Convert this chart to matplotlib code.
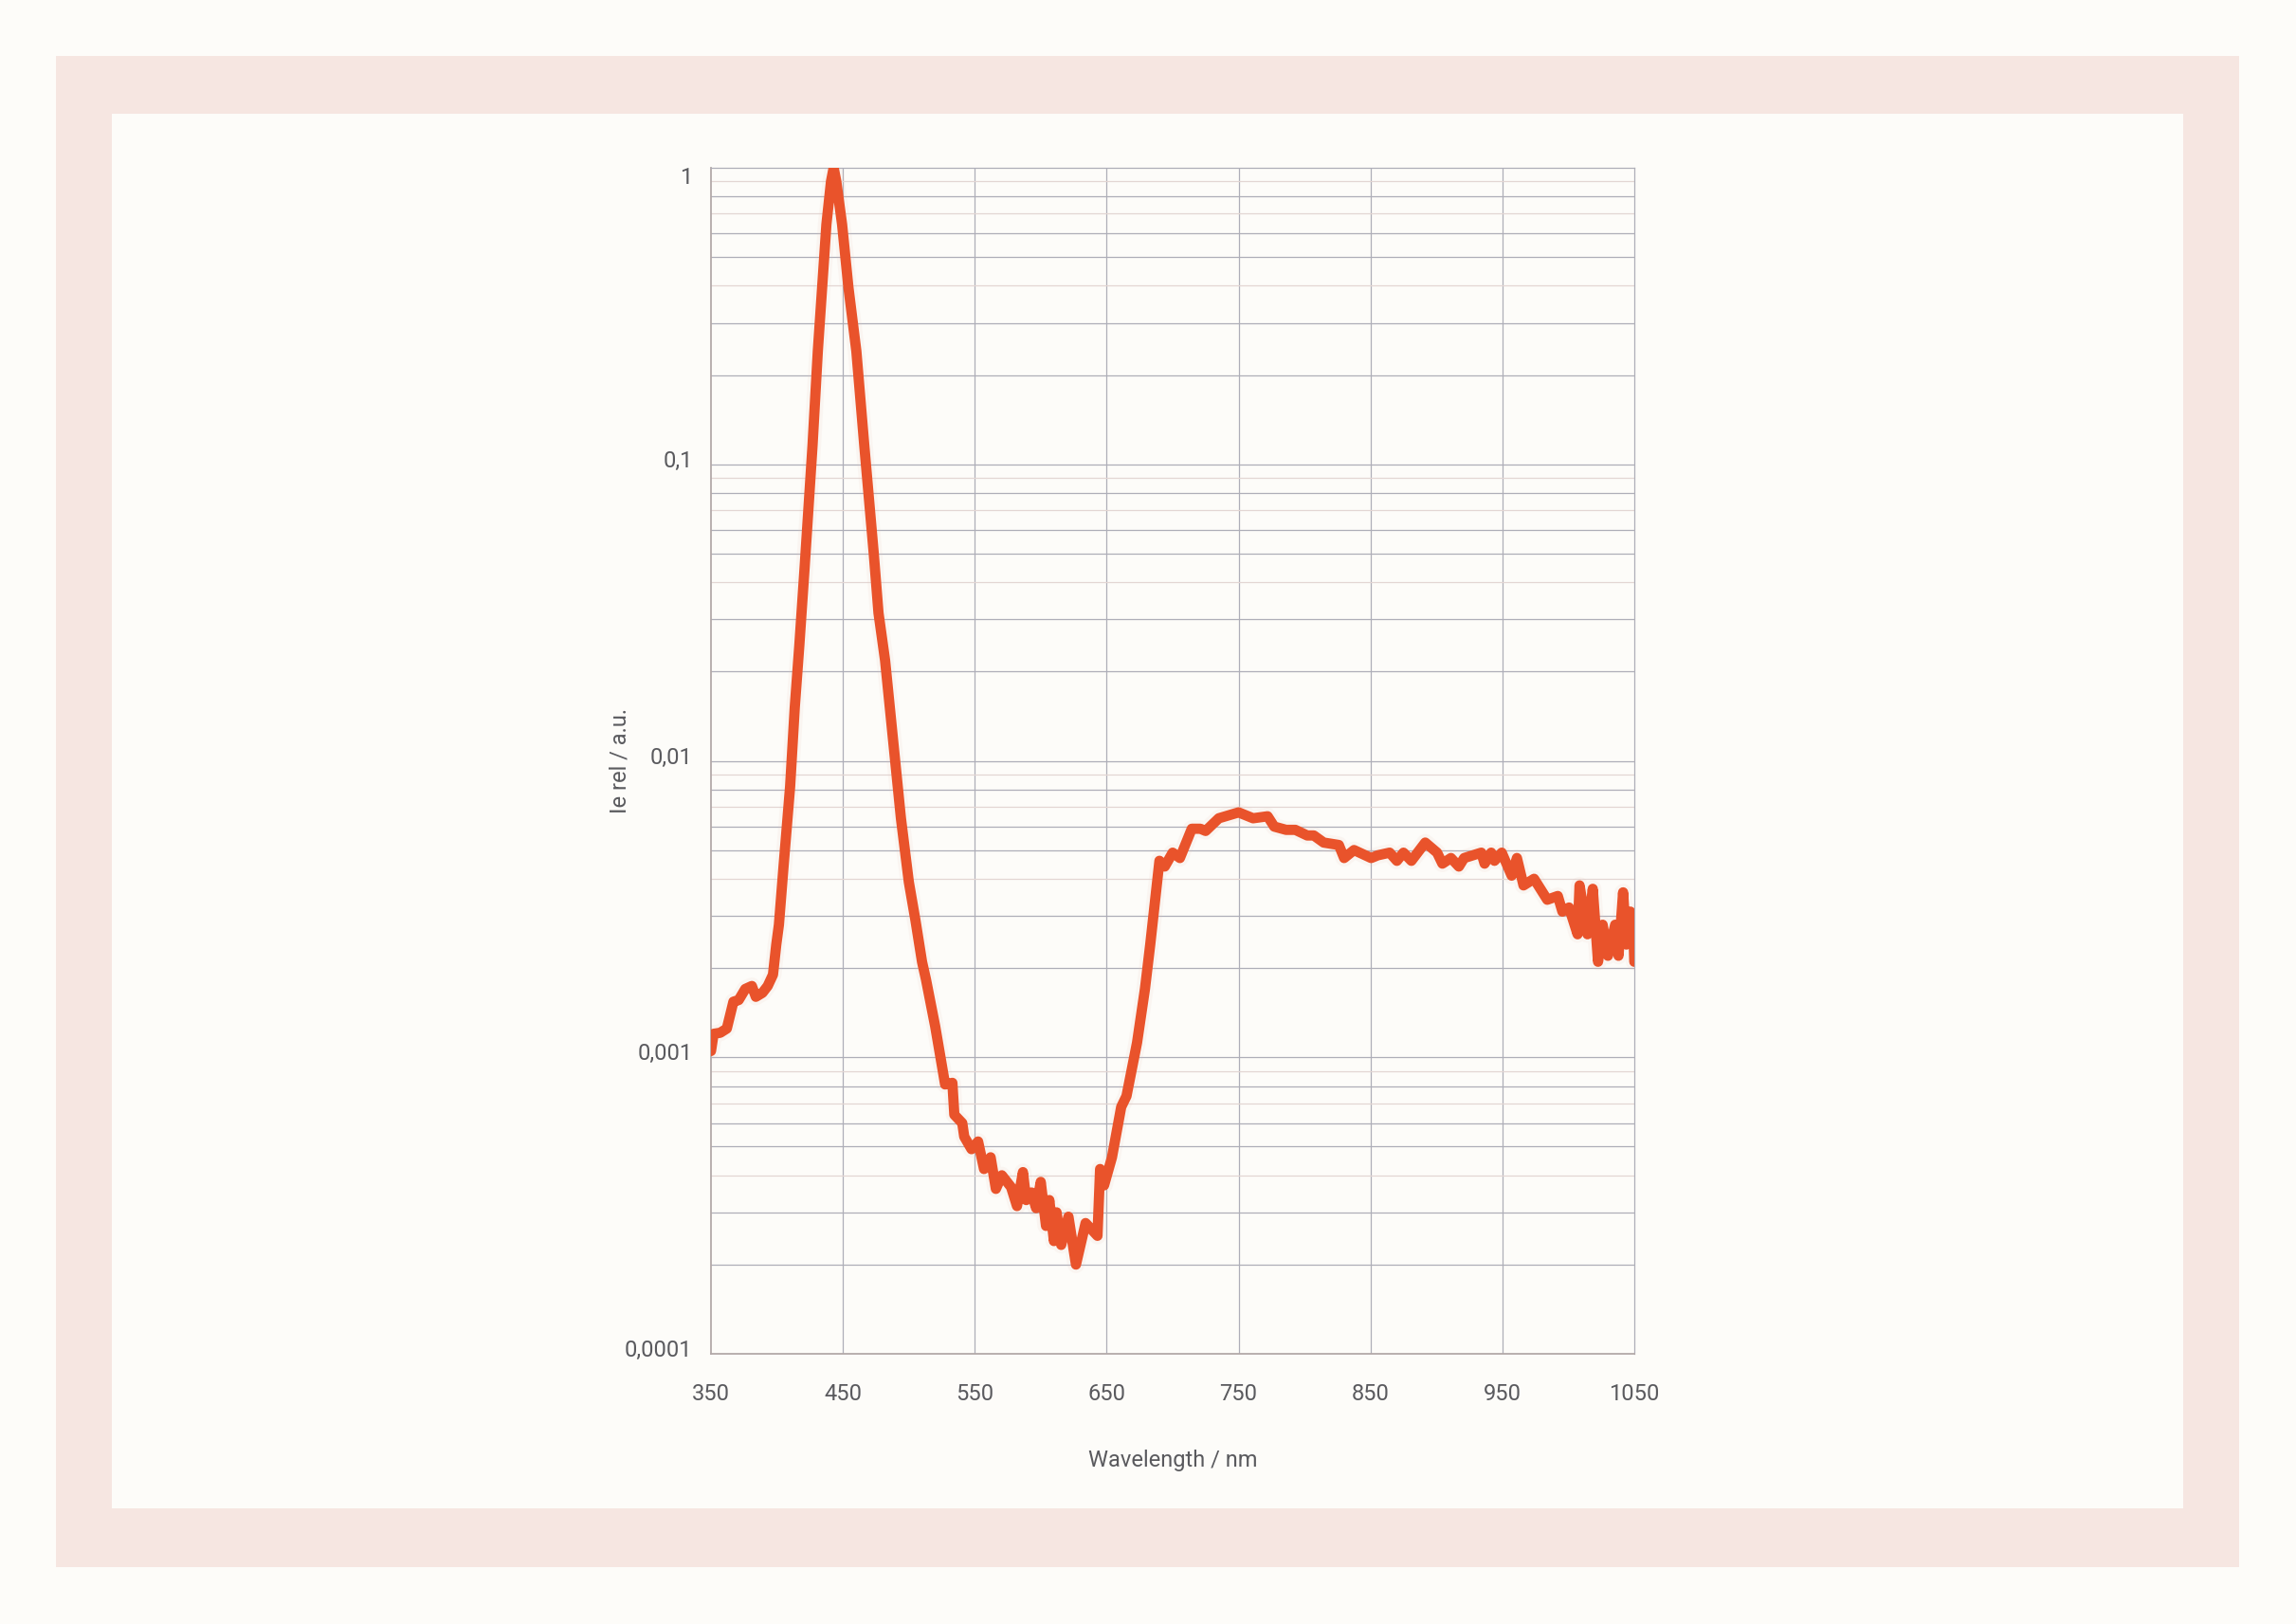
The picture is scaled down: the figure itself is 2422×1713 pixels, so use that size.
import matplotlib
matplotlib.use('Agg')
import matplotlib.pyplot as plt
import matplotlib.transforms as mtransforms
from matplotlib.patches import Rectangle

# ── data ──────────────────────────────────────────────────────────────
wavelength = [350, 352, 357, 362, 367, 371, 376, 381, 384, 389, 393, 397,
              399.5, 401.5, 405, 410, 413.5, 417, 421, 427, 431, 434.3,
              437.5, 441, 443, 445, 449.4, 454.2, 460.2, 466.2, 473.4, 477,
              482, 488, 494, 500, 505, 510, 513, 520, 527.5, 533, 534.5,
              540.5, 542, 547.5, 552.5, 557, 562, 566, 570.5, 577.5, 582,
              586.5, 589, 593, 596.5, 600, 604, 606.5, 610, 612, 615.5, 621,
              626.7, 634, 643, 645, 648, 654, 661, 665, 673, 679, 683, 690,
              694, 700, 705.5, 714.5, 721, 725, 735, 750, 761, 772, 777, 786,
              793, 802, 807, 814.5, 826, 830, 837.5, 850.5, 855.5, 864.5,
              870, 875, 881, 891.5, 900.5, 904.5, 911, 917, 921, 934, 936.5,
              941.5, 944, 949.5, 957, 961, 966, 974, 984, 992, 995.5, 1000.5,
              1007, 1008.5, 1014.5, 1018.5, 1022.5, 1026, 1030, 1035.5, 1038,
              1041.5, 1044, 1047, 1049.5, 1050]
intensity = [0.00105, 0.0012, 0.00121, 0.00125, 0.00154, 0.00156, 0.0017,
             0.00174, 0.0016, 0.00165, 0.00174, 0.0019, 0.0024, 0.0028,
             0.0044, 0.0082, 0.0151, 0.0246, 0.045, 0.116, 0.241, 0.395,
             0.644, 0.9, 1.0, 0.9, 0.644, 0.395, 0.241, 0.116, 0.05, 0.0315,
             0.0218, 0.0118, 0.0064, 0.0039, 0.0029, 0.0021, 0.00183,
             0.00127, 0.00081, 0.00082, 0.00064, 0.0006, 0.00054, 0.00049,
             0.00052, 0.00042, 0.00046, 0.00036, 0.0004, 0.000365, 0.000315,
             0.00041, 0.00033, 0.00035, 0.00031, 0.00038, 0.00027, 0.00033,
             0.00024, 0.0003, 0.000233, 0.00029, 0.0002, 0.000276, 0.00025,
             0.00042, 0.00037, 0.00046, 0.00068, 0.00074, 0.00112, 0.0017,
             0.0024, 0.0046, 0.0044, 0.0049, 0.0047, 0.0059, 0.0059, 0.0058,
             0.0064, 0.0067, 0.0064, 0.0065, 0.006, 0.00585, 0.00585, 0.0056,
             0.0056, 0.0053, 0.0052, 0.0047, 0.005, 0.0047, 0.0048, 0.0049,
             0.0046, 0.0049, 0.0046, 0.0053, 0.0049, 0.0045, 0.0047, 0.0044,
             0.0047, 0.0049, 0.0045, 0.0049, 0.0046, 0.0049, 0.0041, 0.0047,
             0.0038, 0.004, 0.0034, 0.0035, 0.0031, 0.0032, 0.0026, 0.0038,
             0.0026, 0.0037, 0.0021, 0.0028, 0.0022, 0.0028, 0.0022, 0.0036,
             0.0024, 0.0031, 0.0025, 0.0021]

x_ticks = [350, 450, 550, 650, 750, 850, 950, 1050]
y_ticks = [1e-4, 1e-3, 1e-2, 1e-1, 1]
y_tick_labels = ['0,0001', '0,001', '0,01', '0,1', '1']

BG = '#fdfcf9'
FRAME = '#f6e6e1'
LINE = '#e9532b'
GRID = '#aeaeb8'
GRID_PINK = '#e3d6d3'
TXT = '#5a5a5e'

plt.rcParams['font.family'] = ['Roboto', 'DejaVu Sans']

W, H = 2422, 1713
fig = plt.figure(figsize=(W / 100, H / 100), dpi=100)
fig.patch.set_facecolor(BG)

# pink frame around the white panel
def px_rect(x0, y0, x1, y1, color):
    fig.add_artist(Rectangle((x0 / W, 1 - y1 / H), (x1 - x0) / W, (y1 - y0) / H,
                             transform=fig.transFigure, facecolor=color,
                             edgecolor='none', zorder=0))

px_rect(59, 59, 2362, 1653, FRAME)
px_rect(118, 120, 2303, 1591, BG)

ax = fig.add_axes([750 / W, 1 - 1428 / H, 974 / W, 1251 / H])
ax.set_facecolor(BG)
ax.set_yscale('log')
ax.set_xlim(350, 1050)
ax.set_ylim(1e-4, 1)

# grid: vertical every 100 nm, horizontal at every log sub-tick
for xv in x_ticks[1:-1]:
    ax.axvline(xv, color=GRID, lw=0.9, zorder=1)
for dec in [1e-4, 1e-3, 1e-2, 1e-1]:
    for m in range(1, 10):
        yv = dec * m
        if yv <= 1e-4:
            continue
        c = GRID_PINK if m in (4, 7, 9) else GRID
        ax.axhline(yv, color=c, lw=0.9, zorder=1)

# faint shadow under the curve, then the curve itself
ax.plot(wavelength, intensity, color='#e9c6bb', lw=13, alpha=0.12,
        solid_joinstyle='round', solid_capstyle='round', zorder=2)
ax.plot(wavelength, intensity, color=LINE, lw=7.8,
        solid_joinstyle='round', solid_capstyle='round', zorder=3)

for side in ['left', 'bottom']:
    ax.spines[side].set_color('#b3a9a9')
    ax.spines[side].set_linewidth(1.3)
for side in ['right', 'top']:
    ax.spines[side].set_color(GRID)
    ax.spines[side].set_linewidth(0.9)

ax.set_xticks(x_ticks)
ax.set_yticks(y_ticks)
ax.set_yticklabels(y_tick_labels)
ax.minorticks_off()
ax.tick_params(axis='x', length=0, pad=22, labelsize=17, labelcolor=TXT)
ax.tick_params(axis='y', length=0, pad=14, labelsize=17, labelcolor=TXT)

# the original labels sit a little above their gridline (the top one below)
for lab in ax.get_yticklabels():
    dy = -8 if lab.get_text() == '1' else 6
    lab.set_transform(lab.get_transform() +
                      mtransforms.ScaledTranslation(0, dy / 100, fig.dpi_scale_trans))

ax.set_xlabel('Wavelength / nm', fontsize=17, color=TXT, labelpad=34)
ax.set_ylabel('Ie rel / a.u.', fontsize=17, color=TXT)
ax.yaxis.set_label_coords(-0.087, 0.5)

fig.savefig('out.png', dpi=100, facecolor=BG)
